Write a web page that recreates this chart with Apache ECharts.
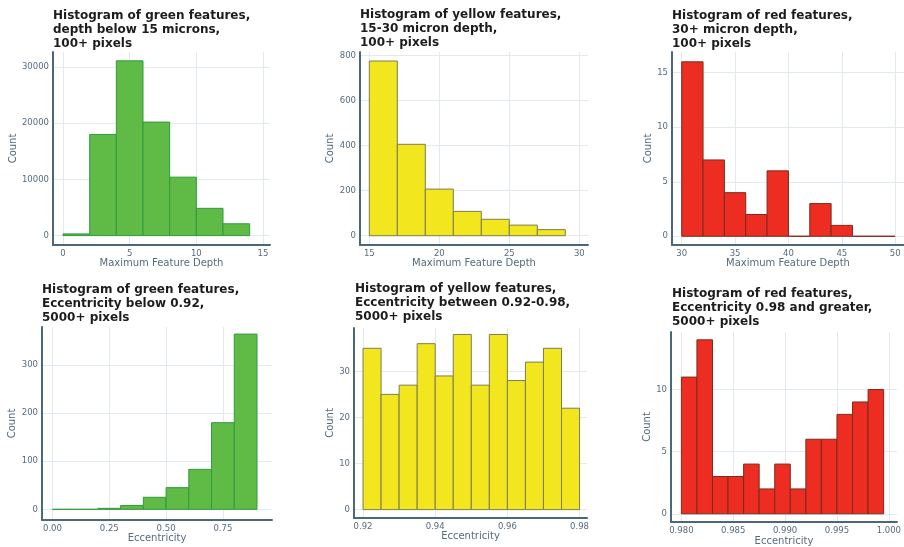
<!DOCTYPE html>
<html>
<head>
<meta charset="utf-8">
<title>Feature histograms</title>
<script src="https://cdn.jsdelivr.net/npm/echarts@6/dist/echarts.min.js"></script>
<style>
  html, body { margin: 0; padding: 0; background: #ffffff; }
  #chart { width: 904px; height: 547px; }
</style>
</head>
<body>
<div id="chart"></div>
<script>
// ---- Histogram data: bin edges and counts per panel ----
const greenDepthEdges = [0, 2, 4, 6, 8, 10, 12, 14];
const greenDepthCounts = [300, 18000, 31100, 20200, 10400, 4850, 2100];

const yellowDepthEdges = [15, 17, 19, 21, 23, 25, 27, 29];
const yellowDepthCounts = [776, 406, 207, 108, 73, 47, 27];

const redDepthEdges = [30, 32, 34, 36, 38, 40, 42, 44, 46, 48, 50];
const redDepthCounts = [16, 7, 4, 2, 6, 0, 3, 1, 0, 0];

const greenEccEdges = [0.0, 0.1, 0.2, 0.3, 0.4, 0.5, 0.6, 0.7, 0.8, 0.9];
const greenEccCounts = [0, 0, 2, 8, 25, 45, 83, 180, 364];

const yellowEccEdges = [0.92, 0.925, 0.93, 0.935, 0.94, 0.945, 0.95, 0.955, 0.96, 0.965, 0.97, 0.975, 0.98];
const yellowEccCounts = [35, 25, 27, 36, 29, 38, 27, 38, 28, 32, 35, 22];

const redEccEdges = [0.98, 0.9815, 0.983, 0.9845, 0.986, 0.9875, 0.989, 0.9905, 0.992, 0.9935, 0.995, 0.9965, 0.998, 0.9995];
const redEccCounts = [11, 14, 3, 3, 4, 2, 4, 2, 6, 6, 8, 9, 10];

// ---- Tick labels ----
const greenDepthXTicks = [0, 5, 10, 15];
const greenDepthYTicks = [0, 10000, 20000, 30000];
const yellowDepthXTicks = [15, 20, 25, 30];
const yellowDepthYTicks = [0, 200, 400, 600, 800];
const redDepthXTicks = [30, 35, 40, 45, 50];
const redDepthYTicks = [0, 5, 10, 15];
const greenEccXTicks = [0, 0.25, 0.5, 0.75];
const greenEccYTicks = [0, 100, 200, 300];
const yellowEccXTicks = [0.92, 0.94, 0.96, 0.98];
const yellowEccYTicks = [0, 10, 20, 30];
const redEccXTicks = [0.98, 0.985, 0.99, 0.995, 1.0];
const redEccYTicks = [0, 5, 10];

// ---- Titles ----
const titles = [
  'Histogram of green features,\ndepth below 15 microns,\n100+ pixels',
  'Histogram of yellow features,\n15-30 micron depth,\n100+ pixels',
  'Histogram of red features,\n30+ micron depth,\n100+ pixels',
  'Histogram of green features,\nEccentricity below 0.92,\n5000+ pixels',
  'Histogram of yellow features,\nEccentricity between 0.92-0.98,\n5000+ pixels',
  'Histogram of red features,\nEccentricity 0.98 and greater,\n5000+ pixels'
];

const GREEN = { fill: '#5fba46', stroke: '#2f9c3c' };
const YELLOW = { fill: '#f2e61e', stroke: '#7e7c52' };
const RED = { fill: '#ee2d22', stroke: '#7c2a1c' };

const FONT = 'DejaVu Sans, Verdana, sans-serif';
const AXIS_COLOR = '#4c6878';
const LABEL_COLOR = '#566b7d';
const GRID_COLOR = '#e2eaf0';

// Panel layout: axis box, axis ranges, name gaps
const panels = [
  { edges: greenDepthEdges, counts: greenDepthCounts, color: GREEN, xTicks: greenDepthXTicks, yTicks: greenDepthYTicks,
    box: { left: 53, top: 52, width: 217, height: 193 }, xr: [-0.75, 15.525], yr: [-1673, 32669],
    xName: 'Maximum Feature Depth', xDec: 0, yGap: 28, xGap: 13, title: { left: 53, top: 9 } },
  { edges: yellowDepthEdges, counts: yellowDepthCounts, color: YELLOW, xTicks: yellowDepthXTicks, yTicks: yellowDepthYTicks,
    box: { left: 360, top: 52, width: 228, height: 193 }, xr: [14.336, 30.62], yr: [-41.3, 816],
    xName: 'Maximum Feature Depth', xDec: 0, yGap: 19, xGap: 13, title: { left: 360, top: 8 } },
  { edges: redDepthEdges, counts: redDepthCounts, color: RED, xTicks: redDepthXTicks, yTicks: redDepthYTicks,
    box: { left: 672, top: 52, width: 232, height: 193 }, xr: [29.09, 50.83], yr: [-0.8, 16.9],
    xName: 'Maximum Feature Depth', xDec: 0, yGap: 14, xGap: 13, title: { left: 672, top: 9 } },
  { edges: greenEccEdges, counts: greenEccCounts, color: GREEN, xTicks: greenEccXTicks, yTicks: greenEccYTicks,
    box: { left: 42, top: 327, width: 230, height: 193 }, xr: [-0.0459, 0.966], yr: [-22.2, 378.8],
    xName: 'Eccentricity', xDec: 2, yGap: 15, xGap: 8, title: { left: 42, top: 283 } },
  { edges: yellowEccEdges, counts: yellowEccCounts, color: YELLOW, xTicks: yellowEccXTicks, yTicks: yellowEccYTicks,
    box: { left: 354, top: 328, width: 233, height: 190 }, xr: [0.9175, 0.98206], yr: [-1.82, 39.4],
    xName: 'Eccentricity', xDec: 2, yGap: 15, xGap: 12, title: { left: 355, top: 282 } },
  { edges: redEccEdges, counts: redEccCounts, color: RED, xTicks: redEccXTicks, yTicks: redEccYTicks,
    box: { left: 671, top: 332, width: 233, height: 191 }, xr: [0.979, 1.00078], yr: [-0.66, 14.63],
    xName: 'Eccentricity', xDec: 3, yGap: 13, xGap: 14, title: { left: 672, top: 287 } }
];

const option = {
  backgroundColor: '#ffffff',
  animation: false,
  title: [],
  grid: [],
  xAxis: [],
  yAxis: [],
  series: []
};

panels.forEach(function (p, i) {
  option.title.push({
    text: titles[i],
    left: p.title.left,
    top: p.title.top,
    padding: 0,
    textStyle: { fontFamily: FONT, fontSize: 12, fontWeight: 'bold', color: '#1c1c1c', lineHeight: 14 }
  });
  option.grid.push(Object.assign({ containLabel: false }, p.box));
  option.xAxis.push({
    type: 'value',
    gridIndex: i,
    min: p.xr[0],
    max: p.xr[1],
    name: p.xName,
    nameLocation: 'middle',
    nameGap: p.xGap,
    nameTextStyle: { fontFamily: FONT, fontSize: 10, color: LABEL_COLOR },
    axisLine: { show: true, onZero: false, lineStyle: { color: AXIS_COLOR, width: 2 } },
    axisTick: { show: false, customValues: p.xTicks },
    axisLabel: {
      customValues: p.xTicks,
      fontFamily: FONT, fontSize: 8.5, color: LABEL_COLOR, margin: 4,
      formatter: (function (dec) { return function (v) { return Number(v).toFixed(dec); }; })(p.xDec)
    },
    splitLine: { show: true, lineStyle: { color: GRID_COLOR, width: 1 } }
  });
  option.yAxis.push({
    type: 'value',
    gridIndex: i,
    min: p.yr[0],
    max: p.yr[1],
    name: 'Count',
    nameLocation: 'middle',
    nameGap: p.yGap,
    nameTextStyle: { fontFamily: FONT, fontSize: 10, color: LABEL_COLOR },
    axisLine: { show: true, onZero: false, lineStyle: { color: AXIS_COLOR, width: 2 } },
    axisTick: { show: false, customValues: p.yTicks },
    axisLabel: {
      customValues: p.yTicks,
      fontFamily: FONT, fontSize: 8.5, color: LABEL_COLOR, margin: 4,
      formatter: function (v) { return String(Math.round(v)); }
    },
    splitLine: { show: true, lineStyle: { color: GRID_COLOR, width: 1 } }
  });
  // One record per bin: [left edge, right edge, count]
  const bins = p.counts.map(function (c, k) { return [p.edges[k], p.edges[k + 1], c]; });
  option.series.push({
    type: 'custom',
    xAxisIndex: i,
    yAxisIndex: i,
    encode: { x: [0, 1], y: 2 },
    data: bins,
    renderItem: (function (col) {
      return function (params, api) {
        const topLeft = api.coord([api.value(0), api.value(2)]);
        const bottomRight = api.coord([api.value(1), 0]);
        return {
          type: 'rect',
          shape: {
            x: topLeft[0],
            y: topLeft[1],
            width: bottomRight[0] - topLeft[0],
            height: bottomRight[1] - topLeft[1]
          },
          style: { fill: col.fill, stroke: col.stroke, lineWidth: 1 }
        };
      };
    })(p.color)
  });
});

const chart = echarts.init(document.getElementById('chart'), null, { renderer: 'canvas' });
chart.setOption(option);
</script>
</body>
</html>
